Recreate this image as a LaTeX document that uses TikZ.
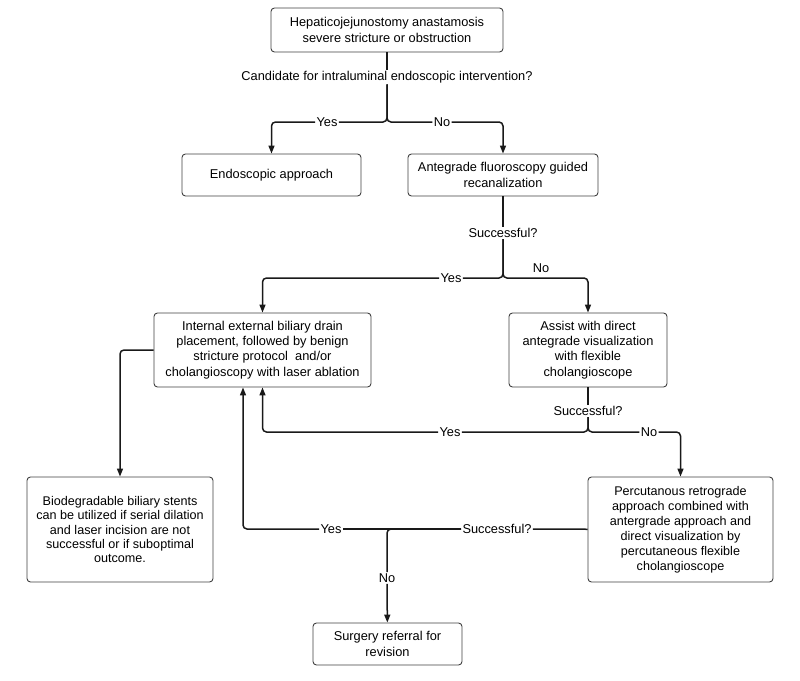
\documentclass[tikz,border=0pt]{standalone}
\usepackage{fontspec}
\setmainfont{Liberation Sans}
\usetikzlibrary{arrows.meta}
\begin{document}
\begin{tikzpicture}[x=1pt,y=-1pt,
  every node/.style={font=\fontsize{12.8}{15.3}\selectfont},
  box/.style={draw=black!75, line width=0.9pt, rounded corners=3.5pt, align=center, inner sep=0pt, fill=white},
  lbl/.style={fill=white, inner sep=1.2pt},
  conn/.style={draw=black!90, line width=1.5pt, rounded corners=4pt},
  arr/.style={conn, -{Triangle[length=8pt,width=6pt]}}
]
\useasboundingbox (0,0) rectangle (800,680);

% boxes
\node[box, minimum width=232, minimum height=44] (top) at (387,30)
  {Hepaticojejunostomy anastamosis\\severe stricture or obstruction};
\node[box, minimum width=179, minimum height=42] (endo) at (271.5,175) {Endoscopic approach};
\node[box, minimum width=190, minimum height=42] (ante) at (503,175)
  {Antegrade fluoroscopy guided\\recanalization};
\node[box, minimum width=217, minimum height=74] (internal) at (262.5,350)
  {Internal external biliary drain\\placement, followed by benign\\stricture protocol\ \ and/or\\cholangioscopy with laser ablation};
\node[box, minimum width=158, minimum height=74] (assist) at (588,350)
  {Assist with direct\\antegrade visualization\\with flexible\\cholangioscope};
\node[box, minimum width=186, minimum height=105, font=\fontsize{12.6}{14.4}\selectfont] (bio) at (120,529.5)
  {Biodegradable biliary stents\\can be utilized if serial dilation\\and laser incision are not\\successful or if suboptimal\\outcome.};
\node[box, minimum width=185, minimum height=105, font=\fontsize{12.6}{15}\selectfont] (perc) at (680.5,529.5)
  {Percutanous retrograde\\approach combined with\\antergrade approach and\\direct visualization by\\percutaneous flexible\\cholangioscope};
\node[box, minimum width=149, minimum height=42] (surg) at (387.5,644)
  {Surgery referral for\\revision};

% labels
\node[lbl] (cand) at (387,77) {Candidate for intraluminal endoscopic intervention?};
\node[lbl] (yes1) at (327,122) {Yes};
\node[lbl] (no1) at (442,122) {No};
\node[lbl] (succ1) at (503,233) {Successful?};
\coordinate (j2) at (503,278);
\node[lbl] (yes2) at (451,278) {Yes};
\node[lbl] (no2) at (541,268) {No};
\node[lbl] (succ2) at (588,411) {Successful?};
\coordinate (j3) at (588,432);
\node[lbl] (yes3) at (450,432) {Yes};
\node[lbl] (no3) at (649,432) {No};
\node[lbl] (succ4) at (497,529) {Successful?};
\node[lbl] (yes4) at (331,529) {Yes};
\node[lbl] (no4) at (387,578) {No};

% connectors
\draw[conn] (top) -- (cand);
\draw[conn] (cand) |- (yes1);
\draw[arr] (yes1) -| (endo);
\draw[conn] (cand) |- (no1);
\draw[arr] (no1) -| (ante);

\draw[conn] (ante) -- (succ1);
\draw[conn] (succ1) -- (j2) -- (yes2);
\draw[arr] (yes2) -| (internal);
\draw[arr] (succ1) -- (j2) -| (assist);

\draw[conn] (assist) -- (succ2);
\draw[conn] (succ2) -- (j3) -- (yes3);
\draw[arr] (yes3) -| (internal);
\draw[conn] (succ2) -- (j3) -- (no3);
\draw[arr] (no3) -| (perc);

\draw[conn] (perc) -- (succ4);
\draw[conn] (succ4) -- (yes4);
\draw[arr] (yes4) -| ([xshift=-19.5pt]internal.south);
\draw[conn] (succ4) -| (no4);
\draw[arr] (no4) -- (surg);

\draw[arr] (internal) -| (bio);
\end{tikzpicture}
\end{document}
